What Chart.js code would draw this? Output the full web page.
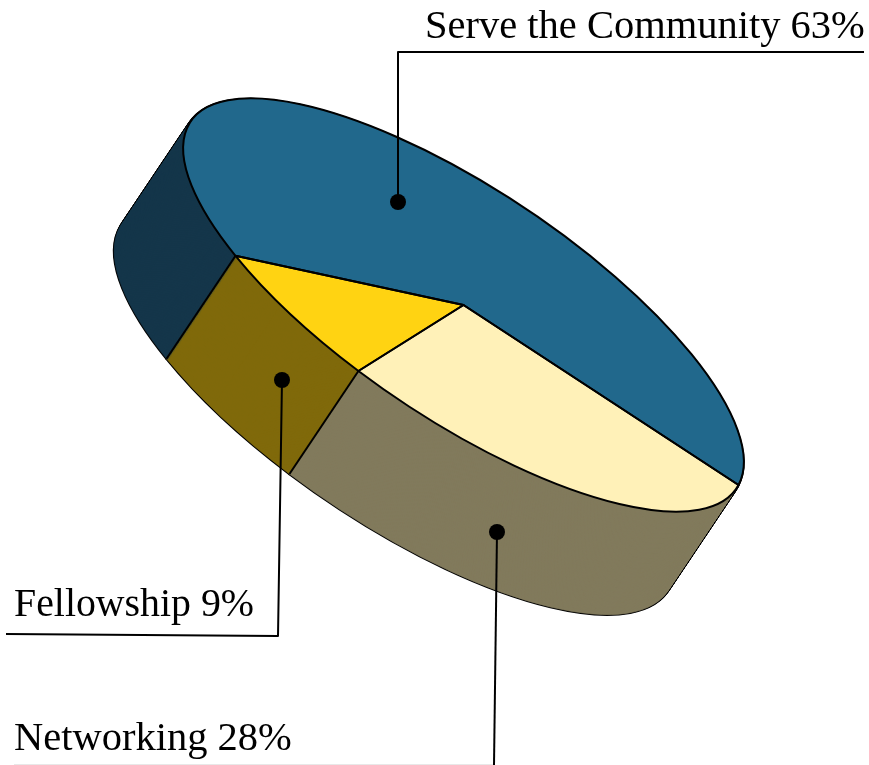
<!DOCTYPE html>
<html>
<head>
<meta charset="utf-8">
<title>Tilted pie</title>
<script src="https://cdn.jsdelivr.net/npm/chart.js@4/dist/chart.umd.min.js"></script>
<style>
    html, body { margin: 0; padding: 0; background: #fff; overflow: hidden; }
    canvas { display: block; }
</style>
</head>
<body>
<canvas id="pie" width="869" height="765"></canvas>
<script>
// slices run clockwise from the right-hand end of the rim
const categories = ['Networking', 'Fellowship', 'Serve the Community'];
const shares = [28, 9, 63];
const topColors = ['#fff1b8', '#ffd312', '#21688c'];
const sideColors = ['#827a5c', '#80690a', '#14364a'];

// where the unit circle of the pie lands on the page
const center = { x: 463.5, y: 305 };
const axisU = { x: 275, y: 180 };
const axisV = { x: -54.5, y: 101.5 };
const depth = { x: -69, y: 103 };

const callouts = [
    { slice: 2, textX: 425, textY: 38, textWidth: 440, dot: [398, 202], line: [[398, 202], [398, 52], [864, 52]] },
    { slice: 1, textX: 14, textY: 616, textWidth: 240, dot: [282, 380], line: [[282, 380], [278, 636], [6, 634]] },
    { slice: 0, textX: 14, textY: 750, textWidth: 278, dot: [497, 532], line: [[497, 532], [494, 765]] }
];

function applyTilt(ctx, arc, dx, dy) {
    const r = arc.outerRadius;
    ctx.translate(center.x + dx, center.y + dy);
    ctx.transform(axisU.x / r, axisU.y / r, axisV.x / r, axisV.y / r, 0, 0);
    ctx.translate(-arc.x, -arc.y);
}

// builds the path under the tilt, so a later stroke keeps an even width
function slicePath(ctx, arc, dx, dy) {
    ctx.save();
    applyTilt(ctx, arc, dx, dy);
    ctx.beginPath();
    ctx.moveTo(arc.x, arc.y);
    ctx.arc(arc.x, arc.y, arc.outerRadius, arc.startAngle, arc.endAngle);
    ctx.closePath();
    ctx.restore();
}

const tiltedPie = {
    id: 'tiltedPie',
    beforeDatasetsDraw(chart) {
        const ctx = chart.ctx;
        const arcs = chart.getDatasetMeta(0).data;
        const steps = Math.ceil(Math.hypot(depth.x, depth.y));

        // black pass first, the fill pass leaves only the outer edge of it
        ctx.save();
        ctx.strokeStyle = '#000';
        ctx.lineWidth = 2.6;
        ctx.lineJoin = 'round';
        for (let i = steps; i >= 1; i--) {
            arcs.forEach(arc => {
                slicePath(ctx, arc, depth.x * i / steps, depth.y * i / steps);
                ctx.stroke();
            });
        }
        for (let i = steps; i >= 1; i--) {
            arcs.forEach((arc, n) => {
                slicePath(ctx, arc, depth.x * i / steps, depth.y * i / steps);
                ctx.fillStyle = sideColors[n];
                ctx.fill();
                ctx.strokeStyle = sideColors[n];
                ctx.lineWidth = 0.6;
                ctx.stroke();
            });
        }
        ctx.restore();
    },
    beforeDatasetDraw(chart) {
        const ctx = chart.ctx;
        ctx.save();
        applyTilt(ctx, chart.getDatasetMeta(0).data[0], 0, 0);
    },
    afterDatasetDraw(chart) {
        chart.ctx.restore();
    },
    afterDatasetsDraw(chart) {
        const ctx = chart.ctx;
        const arcs = chart.getDatasetMeta(0).data;

        ctx.save();
        ctx.strokeStyle = '#000';
        ctx.lineJoin = 'round';
        ctx.lineWidth = 2;

        // seams down the side wall, only where the wall faces the viewer
        const det = axisU.x * axisV.y - axisV.x * axisU.y;
        const nx = (axisV.y * depth.x - axisV.x * depth.y) / det;
        const ny = (axisU.x * depth.y - axisU.y * depth.x) / det;
        arcs.forEach(arc => {
            const c = Math.cos(arc.startAngle);
            const s = Math.sin(arc.startAngle);
            if (c * nx + s * ny <= 0) return;
            const px = center.x + axisU.x * c + axisV.x * s;
            const py = center.y + axisU.y * c + axisV.y * s;
            ctx.beginPath();
            ctx.moveTo(px, py);
            ctx.lineTo(px + depth.x, py + depth.y);
            ctx.stroke();
        });

        arcs.forEach(arc => {
            slicePath(ctx, arc, 0, 0);
            ctx.stroke();
        });

        // leader lines and labels
        ctx.fillStyle = '#000';
        ctx.font = '40.5px "Liberation Serif"';
        ctx.textBaseline = 'alphabetic';
        callouts.forEach(c => {
            ctx.lineWidth = 2;
            ctx.beginPath();
            c.line.forEach((p, i) => i ? ctx.lineTo(p[0], p[1]) : ctx.moveTo(p[0], p[1]));
            ctx.stroke();
            ctx.beginPath();
            ctx.arc(c.dot[0], c.dot[1], 8, 0, Math.PI * 2);
            ctx.fill();
            const text = categories[c.slice] + ' ' + shares[c.slice] + '%';
            ctx.fillText(text, c.textX, c.textY, c.textWidth);
        });

        // the last underline sits right on the bottom edge
        ctx.strokeStyle = '#e8e8e8';
        ctx.lineWidth = 1;
        ctx.beginPath();
        ctx.moveTo(14, 764.5);
        ctx.lineTo(493, 764.5);
        ctx.stroke();
        ctx.restore();
    }
};

new Chart(document.getElementById('pie'), {
    type: 'pie',
    data: {
        labels: categories,
        datasets: [{
            data: shares,
            backgroundColor: topColors,
            borderWidth: 0,
            clip: false
        }]
    },
    options: {
        responsive: false,
        animation: false,
        events: [],
        rotation: 90,
        layout: { padding: 0 },
        plugins: {
            legend: { display: false },
            tooltip: { enabled: false }
        }
    },
    plugins: [tiltedPie]
});
</script>
</body>
</html>
